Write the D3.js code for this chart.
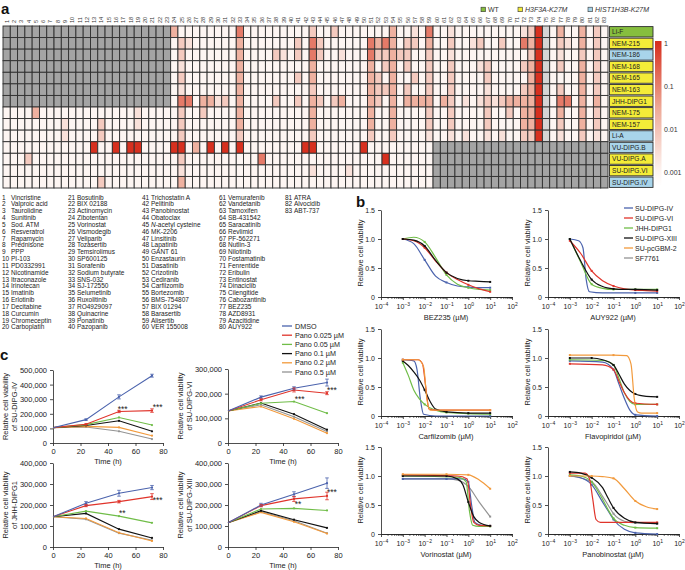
<!DOCTYPE html>
<html lang="en">
<head>
<meta charset="UTF-8">
<title>DIPG drug screen</title>
<script src="https://d3js.org/d3.v7.min.js"></script>
<style>
  body { margin: 0; background: #fff; }
  svg { font-family: "Liberation Sans", Arial, sans-serif; }
  .axis path, .axis line { stroke: #222; stroke-width: 0.8; fill: none; }
  .axis text { font-size: 7px; fill: #222; }
</style>
</head>
<body>
<script>
// ---------- data: panel a ----------
const cellLines = ["Li-F","NEM-215","NEM-186","NEM-168","NEM-165","NEM-163","JHH-DIPG1",
  "NEM-175","NEM-157","Li-A","VU-DIPG.B","VU-DIPG.A","SU-DIPG.VI","SU-DIPG.IV"];
const lineTypes = ["WT","H3F3A","HIST","H3F3A","H3F3A","H3F3A","H3F3A",
  "H3F3A","H3F3A","HIST","HIST","H3F3A","H3F3A","HIST"];
// one char per drug: 0..5 = sensitivity level, x = not tested, n = excluded
const heatRows = [
  "xxxxxxxxxx xxxxxxxxxx xxx3000000 0040000000 0020020000 0003001040 0100000000 0125n03003 020",
  "xxxxxxxxxx xxxxxxxxxx xxx0210000 0030000000 2042000000 4343022030 0200120020 0435n02103 020",
  "xxxxxxxxxx xxxxxxxxxx xxx0200000 0030000210 2042001000 4223220020 0100000000 0025n01002 020",
  "xxxxxxxxxx xxxxxxxxxx xxx0100000 0030000000 0030000000 3023020020 0200012000 0235n02003 020",
  "xxxxxxxxxx xxxxxxxxxx xxx0200000 0030000000 2030000000 3203002020 0200002000 0035n00003 020",
  "xxxxxxxxxx xxxxxxxxxx xxx0100000 0030000000 0020000000 3223020020 0200001000 0235n02003 020",
  "xxxxxxxxxx xxxxxxxxxx xxx0440331 2030000200 2032023000 3203033330 3201012123 3335n04403 030",
  "0000300000 0000000010 0000200200 0030000000 0030000000 3003000020 0200002002 0335n03003 020",
  "0000000010 0002000010 0000200000 0030000000 0030000000 3003000020 0200002000 0335n02003 020",
  "0000000010 0002000000 0000200000 0020000000 0020000000 2002000010 0101001010 0225n01002 010",
  "0000000000 0050050550 0005503050 5050000000 0550000005 000000000x xxxxxxxxxx xxxxxxxxxx xxx",
  "0002000000 0000000000 0000200000 0000040000 0000000000 005000000x xxxxxxxxxx xxxxxxxxxx xxx",
  "0000000000 0000000000 0000100000 0000000000 0010000100 000000000x xxxxxxxxxx xxxxxxxxxx xxx",
  "0000000000 0002000000 0000300000 0000000000 0000000000 000000000x xxxxxxxxxx xxxxxxxxxx xxx"
].map(s => s.replace(/ /g, ""));
const levelValues = [0.001, 0.0025, 0.007, 0.022, 0.12, 1];
const scaleTicks = [1, 0.1, 0.01, 0.001];

const drugs = ["Vincristine","Valproic acid","Taurolidine","Sunitinib","Sod. ATM","Resveratrol",
  "Rapamycin","Prednisone","PPP","PI-103","PD0332991","Nicotinamide","Itraconazole","Irinotecan",
  "Imatinib","Erlotinib","Decitabine","Curcumin","Chromeceptin","Carboplatin",
  "Bosutinib","BIX 02188","Actinomycin","Zibotentan","Vorinostat","Vismodegib","Veliparib",
  "Tozasertib","Temsirolimus","SP600125","Sorafenib","Sodium butyrate","SNS-032","SJ-172550",
  "Selumetinib","Ruxolitinib","RO4929097","Quinacrine","Ponatinib","Pazopanib",
  "Trichostatin A","Pelitinib","Panobinostat","Obatoclax","N-acetyl cysteine","MK-2206",
  "Linsitinib","Lapatinib","GANT 61","Enzastaurin","Dasatinib","Crizotinib","Cediranib",
  "Carfilzomib","Bortezomib","BMS-754807","BIX 01294","Barasertib","Alisertib","VER 155008",
  "Vemurafenib","Vandetanib","Tamoxifen","SB-431542","Saracatinib","Revlimid","PF-562271",
  "Nutlin-3","Nilotinib","Fostamatinib","Fenrentide","Eribulin","Entinostat","Dinaciclib",
  "Cilengitide","Cabozantinib","BEZ235","AZD8931","Azacitidine","AUY922",
  "ATRA","Alvocidib","ABT-737"];

// ---------- data: panel b (log10 dose, viability) ----------
const bLines = ["SU-DIPG-IV","SU-DIPG-VI","JHH-DIPG1","SU-DIPG-XIII","SU-pcGBM-2","SF7761"];
const bezCurves = [
  [[-3,1.0],[-2.5,0.92],[-2,0.64],[-1.5,0.36],[-1,0.25],[-0.5,0.19],[0,0.17],[0.5,0.16],[1,0.16]],
  [[-3,1.0],[-2.5,0.97],[-2,0.85],[-1.5,0.62],[-1,0.42],[-0.5,0.3],[0,0.21],[0.5,0.14],[1,0.09]],
  [[-3,1.0],[-2.5,1.03],[-2,0.95],[-1.5,0.68],[-1,0.38],[-0.5,0.22],[0,0.16],[0.5,0.13],[1,0.12]],
  [[-3,1.0],[-2.5,0.98],[-2,0.88],[-1.5,0.63],[-1,0.42],[-0.5,0.32],[0,0.28],[0.5,0.27],[1,0.26]],
  null, null];
const auyCurves = [
  [[-3,1.0],[-2.6,0.97],[-2.4,0.85],[-2.25,0.3],[-2.1,0.09],[-1.5,0.07],[0,0.07],[1,0.07]],
  [[-3,0.97],[-2.5,0.75],[-2,0.45],[-1.5,0.28],[-1,0.19],[-0.5,0.14],[0,0.12],[0.5,0.11],[1,0.1]],
  [[-3,1.0],[-2.5,0.6],[-2,0.22],[-1.5,0.15],[-1,0.13],[0,0.13],[1,0.13]],
  [[-3,1.0],[-2.5,0.62],[-2,0.3],[-1.5,0.18],[-1,0.14],[-0.5,0.13],[0,0.13],[1,0.12]],
  null, null];
const carfCurves = [
  [[-3,0.97],[-2.5,0.95],[-2.35,0.8],[-2.2,0.3],[-2.05,0.03],[-1.5,0.0],[1,0.0]],
  [[-3,0.97],[-2.3,0.97],[-2.1,0.9],[-1.95,0.5],[-1.8,0.12],[-1.5,0.1],[1,0.1]],
  [[-3,0.92],[-2.75,0.7],[-2.5,0.45],[-2.25,0.3],[-2,0.2],[-1.5,0.1],[-1,0.06],[0,0.04],[1,0.03]],
  [[-3,0.95],[-2.75,0.87],[-2.5,0.76],[-2.25,0.63],[-2,0.45],[-1.75,0.25],[-1.5,0.12],[-1,0.07],[0,0.05],[1,0.05]],
  [[-3,0.97],[-2.3,0.97],[-2.05,0.85],[-1.9,0.3],[-1.75,0.1],[1,0.1]],
  null];
const flavoCurves = [
  [[-3,0.95],[-1.5,0.93],[-1,0.8],[-0.75,0.55],[-0.5,0.3],[-0.25,0.1],[0,0.02],[1,0.0]],
  [[-3,0.9],[-1.5,0.88],[-1,0.8],[-0.75,0.6],[-0.5,0.4],[-0.25,0.27],[0,0.22],[1,0.2]],
  [[-3,0.97],[-1.5,0.96],[-1,0.88],[-0.75,0.65],[-0.5,0.4],[-0.25,0.25],[0,0.2],[1,0.2]],
  [[-3,1.0],[-2,1.0],[-1.5,0.97],[-1,0.88],[-0.75,0.72],[-0.5,0.55],[-0.25,0.44],[0,0.38],[0.5,0.34],[1,0.33]],
  [[-3,1.05],[-1,1.05],[-0.4,1.04],[-0.2,0.9],[-0.05,0.3],[0.1,0.07],[0.3,0.05],[1,0.05]],
  null];
const vorinoCurves = [
  [[-3,0.95],[-1,0.95],[-0.25,0.95],[0,0.9],[0.15,0.5],[0.3,0.2],[0.6,0.15],[1,0.14]],
  [[-3,1.02],[-0.5,1.0],[-0.05,0.95],[0.1,0.5],[0.25,0.2],[0.5,0.15],[1,0.14]],
  [[-3,1.0],[-0.5,0.98],[-0.1,0.9],[0.05,0.4],[0.2,0.15],[0.5,0.13],[1,0.13]],
  [[-3,1.0],[-1,1.0],[-0.5,0.95],[-0.25,0.85],[0,0.55],[0.25,0.3],[0.5,0.2],[1,0.14]],
  [[-3,1.03],[-1,1.03],[0,1.02],[0.5,0.93],[1,0.78]],
  [[-3,0.95],[-1,0.95],[-0.5,0.93],[0,0.82],[0.5,0.55],[1,0.3]]];
const panoCurves = [
  [[-3,1.0],[-2.5,0.97],[-2,0.85],[-1.5,0.55],[-1.25,0.4],[-1,0.25],[-0.5,0.08],[0,0.02],[1,0.0]],
  [[-3,1.05],[-2.3,1.05],[-2.1,0.95],[-1.95,0.6],[-1.8,0.25],[-1.6,0.2],[1,0.2]],
  [[-3,1.02],[-2.5,1.0],[-2,0.9],[-1.5,0.6],[-1.25,0.42],[-1,0.27],[-0.5,0.15],[0,0.11],[1,0.1]],
  [[-3,1.07],[-2.5,1.05],[-2,0.97],[-1.5,0.8],[-1.25,0.62],[-1,0.45],[-0.5,0.27],[0,0.2],[1,0.18]],
  [[-3,1.0],[-2,1.0],[-1.5,0.99],[-1,0.96],[-0.5,0.78],[0,0.57],[0.5,0.47],[1,0.43]],
  [[-3,1.0],[-2,0.9],[-1.5,0.65],[-1.25,0.5],[-1,0.35],[-0.5,0.22],[0,0.19],[1,0.18]]];

// ---------- data: panel c ----------
const timeH = [0, 24, 48, 72];
const treatments = ["DMSO","Pano 0.025 \u00b5M","Pano 0.05 \u00b5M","Pano 0.1 \u00b5M","Pano 0.2 \u00b5M","Pano 0.5 \u00b5M"];
const ivValues = [[105e3,160e3,316e3,461e3],[105e3,128e3,216e3,222e3],[105e3,126e3,175e3,123e3],
  [105e3,120e3,152e3,80e3],[105e3,114e3,107e3,50e3],[105e3,110e3,80e3,27e3]];
const viValues = [[130e3,186e3,222e3,245e3],[130e3,175e3,215e3,202e3],[130e3,161e3,168e3,121e3],
  [130e3,162e3,117e3,54e3],[130e3,148e3,98e3,40e3],[130e3,155e3,106e3,47e3]];
const jhhValues = [[144e3,208e3,256e3,283e3],[144e3,197e3,216e3,240e3],[144e3,171e3,147e3,115e3],
  [144e3,160e3,85e3,43e3],[144e3,136e3,68e3,29e3],[144e3,132e3,66e3,32e3]];
const xiiiValues = [[115e3,200e3,251e3,304e3],[115e3,197e3,229e3,243e3],[115e3,181e3,184e3,174e3],
  [115e3,173e3,130e3,91e3],[115e3,165e3,120e3,64e3],[115e3,168e3,125e3,66e3]];
const ivErr = [[0,5e3,14e3,10e3],[0,4e3,8e3,12e3]];
const viErr = [[0,5e3,6e3,14e3],[0,4e3,8e3,6e3]];
const jhhErr = [[0,8e3,14e3,10e3],[0,5e3,6e3,14e3]];
const xiiiErr = [[0,8e3,12e3,25e3],[0,5e3,12e3,18e3]];
// significance marks: [time, value at mark centre, label]
const ivStars = [[47, 245e3, "***"], [72.5, 259e3, "***"]];
const viStars = [[48.5, 186e3, "***"], [72, 222e3, "***"]];
const jhhStars = [[48, 171e3, "**"], [72.5, 233e3, "***"]];
const xiiiStars = [[48.5, 214e3, "**"], [72, 271e3, "***"]];

// ---------- drawing ----------
const svg = d3.select("body").append("svg").attr("width", 685).attr("height", 570);
const seriesColors = ["#4b63ad", "#e0342b", "#70bd48", "#111111", "#f29a3c", "#939393"];

function panelLetter(t, x, y) {
  svg.append("text").attr("x", x).attr("y", y).text(t)
    .style("font-size", "15px").style("font-weight", "bold").style("fill", "#111");
}
panelLetter("a", 1, 13.5);
panelLetter("b", 356, 207);
panelLetter("c", 0, 360);

// ----- panel a heatmap -----
const hx = d3.scaleBand().domain(d3.range(83)).range([3, 608]);
const hy = d3.scaleBand().domain(d3.range(cellLines.length)).range([26, 188]);
const heatColor = d3.scaleLog().domain([0.001, 0.03, 1]).range(["#fdf5f2", "#eeaa98", "#d7301f"]).clamp(true);
const typeColor = { WT: "#86be3e", H3F3A: "#f4ec38", HIST: "#a8d4ea" };

const heat = svg.append("g");
heatRows.forEach((row, r) => {
  heat.selectAll(null).data(row.split("")).enter().append("rect")
    .attr("x", (d, c) => hx(c)).attr("y", hy(r))
    .attr("width", hx.bandwidth()).attr("height", hy.bandwidth())
    .attr("fill", d => d === "x" ? "#a4a4a4" : d === "n" ? "#d5d5d5" : heatColor(levelValues[+d]))
    .attr("stroke", "#2e2e2e").attr("stroke-width", 0.9);
});

svg.append("g").selectAll("text").data(d3.range(83)).enter().append("text")
  .attr("transform", c => `translate(${hx(c) + hx.bandwidth() / 2 + 2},23) rotate(-90)`)
  .style("font-size", "5.6px").style("fill", "#333").text(c => c + 1);

const labelG = svg.append("g");
labelG.selectAll("rect").data(cellLines).enter().append("rect")
  .attr("x", 609.5).attr("y", (d, i) => hy(i) + 0.6)
  .attr("width", 43.5).attr("height", hy.bandwidth() - 1.2)
  .attr("fill", (d, i) => typeColor[lineTypes[i]])
  .attr("stroke", "#2e2e2e").attr("stroke-width", 0.9);
labelG.selectAll("text").data(cellLines).enter().append("text")
  .attr("x", 612).attr("y", (d, i) => hy(i) + hy.bandwidth() / 2 + 2.4)
  .style("font-size", "6.6px").style("fill", "#222").text(d => d);

// genotype legend
const gLeg = [["WT", "WT", 481, false], ["H3F3A", "H3F3A-K27M", 518, true], ["HIST", "HIST1H3B-K27M", 588, true]];
gLeg.forEach(([k, label, x, it]) => {
  svg.append("rect").attr("x", x).attr("y", 7.2).attr("width", 4.5).attr("height", 4.5)
    .attr("fill", typeColor[k]).attr("stroke", "#333").attr("stroke-width", 0.6);
  svg.append("text").attr("x", x + 7).attr("y", 11.6).text(label)
    .style("font-size", "7px").style("fill", "#333").style("font-style", it ? "italic" : "normal");
});

// colour scale bar
const sy = d3.scaleLog().domain([1, 0.001]).range([43, 172]);
const defs = svg.append("defs");
const grad = defs.append("linearGradient").attr("id", "heatGrad")
  .attr("x1", 0).attr("x2", 0).attr("y1", 0).attr("y2", 1);
[1, 0.1, 0.03, 0.01, 0.001].forEach(v => {
  grad.append("stop").attr("offset", ((sy(v) - 41) / 145 * 100) + "%").attr("stop-color", heatColor(v));
});
grad.append("stop").attr("offset", "100%").attr("stop-color", "#ffffff");
svg.append("rect").attr("x", 655).attr("y", 41).attr("width", 6.5).attr("height", 145)
  .attr("fill", "url(#heatGrad)");
svg.append("g").selectAll("text").data(scaleTicks).enter().append("text")
  .attr("x", 664).attr("y", d => sy(d) + 2.5)
  .style("font-size", "7px").style("fill", "#333").text(d => String(d));

// drug list
const listCols = [2, 68, 142, 219, 285];
drugs.forEach((name, i) => {
  const col = Math.floor(i / 20), row = i % 20;
  const y = 199.5 + row * 6.84;
  const t = svg.append("text").attr("y", y).style("font-size", "6.5px").style("fill", "#222");
  t.append("tspan").attr("x", listCols[col]).text(i + 1);
  const nt = t.append("tspan").attr("x", listCols[col] + 9);
  if (name.startsWith("N-")) {
    nt.append("tspan").style("font-style", "italic").text("N");
    nt.append("tspan").text(name.slice(1));
  } else nt.text(name);
});

// ----- panel b dose-response -----
const bPlots = [
  { drug: "BEZ235", curves: bezCurves, x0: 381, yz: 297 },
  { drug: "AUY922", curves: auyCurves, x0: 548, yz: 297 },
  { drug: "Carfilzomib", curves: carfCurves, x0: 381, yz: 416 },
  { drug: "Flavopiridol", curves: flavoCurves, x0: 548, yz: 416 },
  { drug: "Vorinostat", curves: vorinoCurves, x0: 381, yz: 534 },
  { drug: "Panobinostat", curves: panoCurves, x0: 548, yz: 534 }
];
const decades = d3.range(-4, 3).map(e => Math.pow(10, e));
const minors = [];
d3.range(-4, 2).forEach(e => d3.range(2, 10).forEach(m => minors.push(m * Math.pow(10, e))));
const supMinus = s => s.replace("-", "\u2212");

bPlots.forEach(p => {
  const x = d3.scaleLog().domain([1e-4, 1e2]).range([p.x0, p.x0 + 131]);
  const y = d3.scaleLinear().domain([0, 1.5]).range([p.yz, p.yz - 87]);
  const g = svg.append("g");

  g.append("g").attr("class", "axis").attr("transform", `translate(0,${p.yz})`)
    .call(d3.axisBottom(x).tickValues(minors).tickFormat("").tickSize(1.8).tickSizeOuter(0));
  const xa = g.append("g").attr("class", "axis").attr("transform", `translate(0,${p.yz})`)
    .call(d3.axisBottom(x).tickValues(decades).tickFormat("").tickSize(3).tickSizeOuter(0));
  xa.selectAll(".tick").append("text").attr("y", 12).attr("text-anchor", "middle")
    .each(function (d) {
      const t = d3.select(this);
      t.append("tspan").text("10");
      t.append("tspan").attr("dy", -3).style("font-size", "5px")
        .text(supMinus(String(Math.round(Math.log10(d)))));
    });
  g.append("g").attr("class", "axis").attr("transform", `translate(${p.x0},0)`)
    .call(d3.axisLeft(y).tickValues([0, 0.5, 1, 1.5]).tickSize(3).tickSizeOuter(0)
      .tickFormat(d => d === 0 ? "0" : d.toFixed(1)));

  g.append("text").attr("x", p.x0 + 65).attr("y", p.yz + 23).attr("text-anchor", "middle")
    .style("font-size", "7.5px").style("fill", "#222").text(`${p.drug} (\u00b5M)`);
  g.append("text").attr("transform", `translate(${p.x0 - 18},${p.yz - 44}) rotate(-90)`)
    .attr("text-anchor", "middle").style("font-size", "7.5px").style("fill", "#222")
    .text("Relative cell viability");

  const line = d3.line().x(d => x(Math.pow(10, d[0]))).y(d => y(d[1])).curve(d3.curveMonotoneX);
  [5, 0, 2, 1, 3, 4].forEach(k => {
    const c = p.curves[k];
    if (!c) return;
    g.append("path").datum(c).attr("d", line).attr("fill", "none")
      .attr("stroke", seriesColors[k]).attr("stroke-width", 1.2);
    g.selectAll(null).data(c.filter(d => Number.isInteger(d[0]))).enter().append("rect")
      .attr("x", d => x(Math.pow(10, d[0])) - 1).attr("y", d => y(d[1]) - 1)
      .attr("width", 2).attr("height", 2).attr("fill", seriesColors[k]);
  });
});

const bLeg = svg.append("g");
bLines.forEach((name, i) => {
  const y = 208 + i * 10;
  bLeg.append("line").attr("x1", 624).attr("x2", 633).attr("y1", y).attr("y2", y)
    .attr("stroke", seriesColors[i]).attr("stroke-width", 1.3);
  bLeg.append("text").attr("x", 635).attr("y", y + 2.5).style("font-size", "7px")
    .style("fill", "#222").text(name);
});

// ----- panel c growth curves -----
const cPlots = [
  { name: "SU-DIPG-IV", vals: ivValues, err: ivErr, stars: ivStars, x0: 53, yz: 443, top: 370, ymax: 500e3 },
  { name: "SU-DIPG-VI", vals: viValues, err: viErr, stars: viStars, x0: 228, yz: 443, top: 369, ymax: 300e3 },
  { name: "JHH-DIPG1", vals: jhhValues, err: jhhErr, stars: jhhStars, x0: 53, yz: 547, top: 463, ymax: 400e3 },
  { name: "SU-DIPG-XIII", vals: xiiiValues, err: xiiiErr, stars: xiiiStars, x0: 228, yz: 547, top: 463, ymax: 400e3 }
];

cPlots.forEach(p => {
  const x = d3.scaleLinear().domain([0, 80]).range([p.x0, p.x0 + 110]);
  const y = d3.scaleLinear().domain([0, p.ymax]).range([p.yz, p.top]);
  const g = svg.append("g");
  g.append("g").attr("class", "axis").attr("transform", `translate(0,${p.yz})`)
    .call(d3.axisBottom(x).tickValues([0, 20, 40, 60, 80]).tickSize(3).tickSizeOuter(0))
    .selectAll("text").style("font-size", "7.5px");
  g.append("g").attr("class", "axis").attr("transform", `translate(${p.x0},0)`)
    .call(d3.axisLeft(y).tickValues(d3.range(0, p.ymax + 1, 1e5)).tickSize(3).tickSizeOuter(0)
      .tickFormat(d3.format(",")))
    .selectAll("text").style("font-size", "7.5px");
  g.append("text").attr("x", p.x0 + 55).attr("y", p.yz + 21).attr("text-anchor", "middle")
    .style("font-size", "7.5px").style("fill", "#222").text("Time (h)");
  const ymid = (p.yz + p.top) / 2;
  g.append("text").attr("transform", `translate(${p.x0 - 45},${ymid}) rotate(-90)`)
    .attr("text-anchor", "middle").style("font-size", "7.5px").style("fill", "#222")
    .text("Relative cell viability");
  g.append("text").attr("transform", `translate(${p.x0 - 36.5},${ymid}) rotate(-90)`)
    .attr("text-anchor", "middle").style("font-size", "7.5px").style("fill", "#222")
    .text("of " + p.name);

  const line = d3.line().x((d, i) => x(timeH[i])).y(d => y(d));
  [5, 4, 3, 2, 1, 0].forEach(k => {
    g.append("path").datum(p.vals[k]).attr("d", line).attr("fill", "none")
      .attr("stroke", seriesColors[k]).attr("stroke-width", 1.1);
    g.selectAll(null).data(p.vals[k].slice(1)).enter().append("circle")
      .attr("cx", (d, i) => x(timeH[i + 1])).attr("cy", d => y(d)).attr("r", 1.1)
      .attr("fill", seriesColors[k]);
  });
  p.err.forEach((errs, k) => {
    errs.forEach((e, i) => {
      if (!e) return;
      const v = p.vals[k][i], cx = x(timeH[i]);
      g.append("path")
        .attr("d", `M${cx},${y(v - e)}V${y(v + e)}M${cx - 1.8},${y(v + e)}H${cx + 1.8}M${cx - 1.8},${y(v - e)}H${cx + 1.8}`)
        .attr("stroke", seriesColors[k]).attr("stroke-width", 0.8).attr("fill", "none");
    });
  });
  g.selectAll(null).data(p.stars).enter().append("text")
    .attr("x", d => x(d[0])).attr("y", d => y(d[1]) + 4.5)
    .style("font-size", "8.5px").style("fill", "#222").text(d => d[2]);
});

const cLeg = svg.append("g");
treatments.forEach((name, i) => {
  const y = 326 + i * 9.2;
  cLeg.append("line").attr("x1", 282).attr("x2", 292).attr("y1", y).attr("y2", y)
    .attr("stroke", seriesColors[i]).attr("stroke-width", 1.3);
  cLeg.append("text").attr("x", 295).attr("y", y + 2.6).style("font-size", "7.2px")
    .style("fill", "#222").text(name);
});
</script>
</body>
</html>
